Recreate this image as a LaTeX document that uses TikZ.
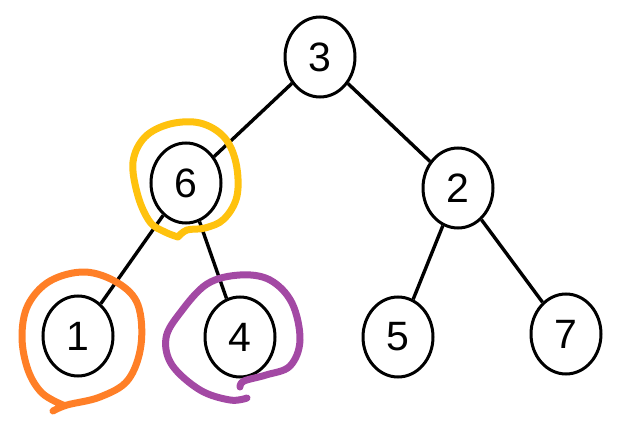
\documentclass[tikz,border=0pt]{standalone}
\usepackage{fontspec}
\setmainfont{Liberation Sans}
\usetikzlibrary{shapes.geometric}
\definecolor{penorange}{HTML}{FF7F27}
\definecolor{penyellow}{HTML}{FFC20E}
\definecolor{penpurple}{HTML}{A349A4}
\begin{document}
\begin{tikzpicture}[x=1pt,y=-1pt,
  treenode/.style={draw=black, ellipse, line width=3pt, minimum width=70pt, minimum height=80pt, inner sep=0pt, fill=white, font=\fontsize{41}{41}\selectfont},
  edge/.style={line width=3.4pt, black},
  pen/.style={line width=7pt, line cap=round, line join=round}]
\useasboundingbox (0,0) rectangle (638,428);
\node[treenode] (n3) at (320,57) {3};
\node[treenode] (n6) at (186,183) {6};
\node[treenode] (n2) at (458,188) {2};
\node[treenode] (n1) at (78,336) {1};
\node[treenode] (n4) at (240,337) {4};
\node[treenode] (n5) at (398,337) {5};
\node[treenode] (n7) at (566,334) {7};
\draw[edge] (n3) -- (n6);
\draw[edge] (n3) -- (n2);
\draw[edge] (n6) -- (n1);
\draw[edge] (n6) -- (n4);
\draw[edge] (n2) -- (n5);
\draw[edge] (n2) -- (n7);
% hand-drawn marks
\draw[pen, penorange] plot[smooth, tension=0.6] coordinates {(53,411) (67,405) (100,397) (128,380) (141,345) (138,305) (118,283) (85,272) (50,281) (28,305) (22,337) (28,370) (42,393) (63,405)};
\draw[pen, penyellow] plot[smooth, tension=0.6] coordinates {(178,237) (165,232) (150,222) (138,196) (133,162) (145,137) (170,124) (200,123) (224,137) (236,163) (237,196) (224,219) (205,228) (187,230) (178,237)};
\draw[pen, penpurple] plot[smooth, tension=0.6] coordinates {(247,398) (230,400) (200,390) (172,365) (166,338) (180,313) (207,284) (240,275) (270,280) (292,303) (300,340) (290,366) (266,375) (244,381) (240,387)};
\end{tikzpicture}
\end{document}
